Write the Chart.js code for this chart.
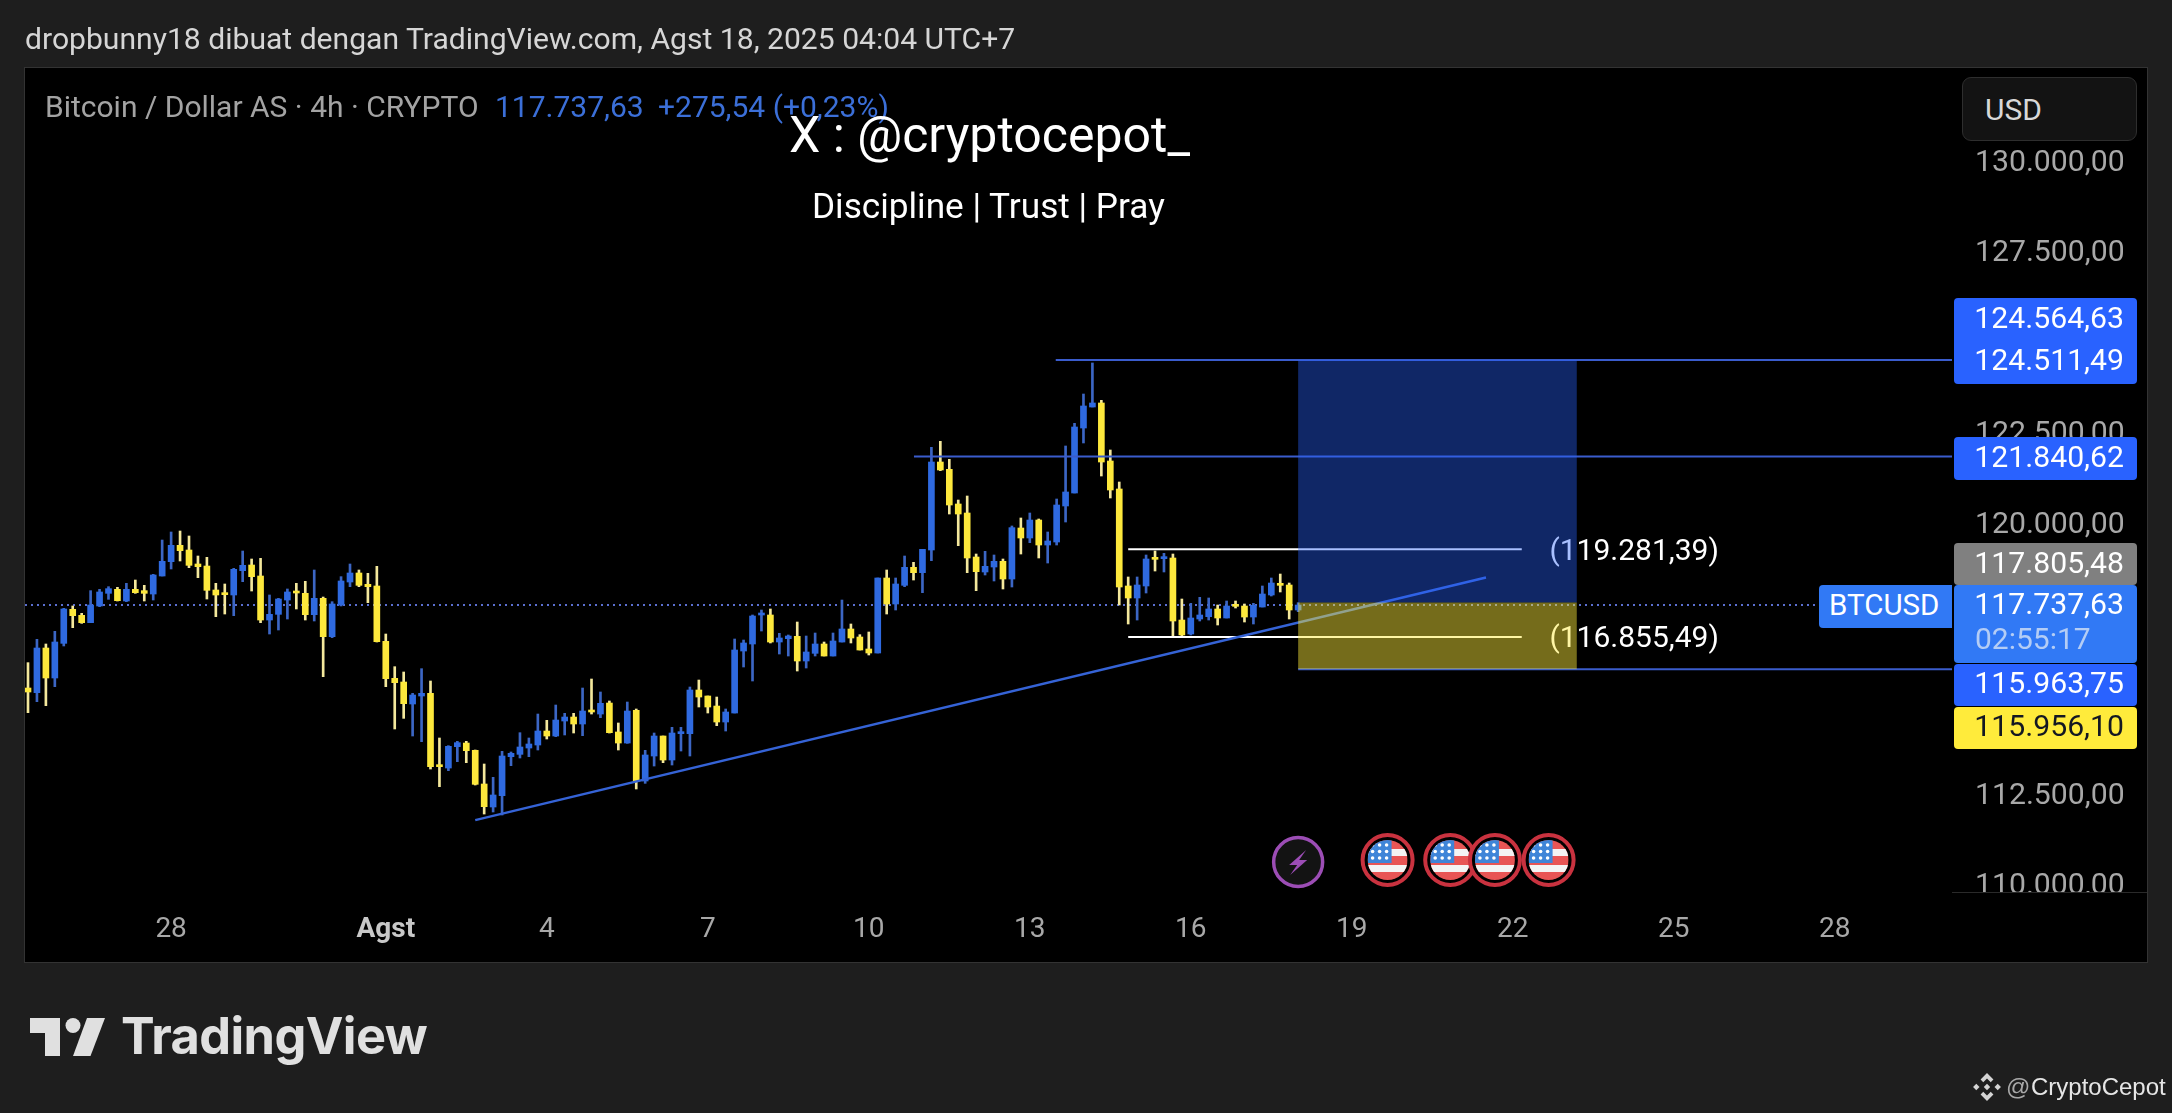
<!DOCTYPE html>
<html>
<head>
<meta charset="utf-8">
<title>BTCUSD 4h</title>
<script src="https://cdn.jsdelivr.net/npm/chart.js@4"></script>
<style>
  html, body { margin: 0; padding: 0; width: 2172px; height: 1113px; overflow: hidden; background: #1e1e1e; }
  body { position: relative; font-family: Roboto, sans-serif; }
  #pane { position: absolute; left: 24px; top: 67px; width: 2122px; height: 894px; background: #000; border: 1px solid #333; }
  canvas { position: absolute; left: 0; top: 0; }
  .t { position: absolute; white-space: nowrap; transform: translateY(-50%); line-height: 1; }
  .tag { position: absolute; left: 1954px; width: 183px; border-radius: 4px; }
  .price { right: 48px; font-size: 30.200px; color: #fff; }
  #usd { position: absolute; left: 1962px; top: 77px; width: 175px; height: 64px; box-sizing: border-box; background: #131313; border: 1px solid #2e2e2e; border-radius: 9px; }
</style>
</head>
<body>
<div id="pane"></div>
<canvas id="chart" width="2172" height="1113"></canvas>

<div class="t" style="left:25px;top:39px;font-size:30.100px;color:#d6d6d6">dropbunny18 dibuat dengan TradingView.com, Agst 18, 2025 04:04 UTC+7</div>
<div class="t" style="left:45px;top:107px;font-size:30px;color:#a3a3a3">Bitcoin / Dollar AS · 4h · CRYPTO</div>
<div class="t" style="left:495px;top:107px;font-size:30px;color:#3b6fd8">117.737,63</div>
<div class="t" style="left:658px;top:107px;font-size:30px;color:#3b6fd8">+275,54 (+0,23%)</div>
<div class="t" style="left:789px;top:135px;font-size:50px;color:#fff">X : @cryptocepot_</div>
<div class="t" style="left:812px;top:207px;font-size:35.200px;color:#fff">Discipline | Trust | Pray</div>

<div id="usd"></div>
<div class="t" style="left:1985px;top:110px;font-size:30px;color:#d8d8d8">USD</div>

<div class="tag" style="top:298px;height:86px;background:#2962ff"></div>
<div class="t price" style="top:318px">124.564,63</div>
<div class="t price" style="top:360px">124.511,49</div>
<div class="tag" style="top:437px;height:43px;background:#2962ff"></div>
<div class="t price" style="top:457px">121.840,62</div>
<div class="tag" style="top:543px;height:42px;background:#808080"></div>
<div class="t price" style="top:563px">117.805,48</div>
<div class="tag" style="top:585px;left:1819px;width:133px;height:43px;background:#3179f5;border-radius:4px 0 0 4px"></div>
<div class="t" style="left:1829px;top:606px;font-size:29.500px;color:#fff">BTCUSD</div>
<div class="tag" style="top:585px;height:78px;background:#3179f5"></div>
<div class="t price" style="top:604px">117.737,63</div>
<div class="t" style="left:1975px;top:639px;font-size:30px;color:#b4cdf5">02:55:17</div>
<div class="tag" style="top:664px;height:42px;background:#2962ff"></div>
<div class="t price" style="top:683px">115.963,75</div>
<div class="tag" style="top:707px;height:42px;background:#ffeb3b"></div>
<div class="t price" style="top:726px;color:#131722">115.956,10</div>

<svg style="position:absolute;left:30px;top:1017px" width="80" height="42" viewBox="0 0 80 42" fill="#e0e0e0">
  <polygon points="0,1 30,1 30,39 15,39 15,16 0,16"></polygon>
  <circle cx="43" cy="8.5" r="7.5"></circle>
  <polygon points="57,1 75,1 60.500,39 43,39"></polygon>
</svg>
<div class="t" style="left:121px;top:1036px;font-family:Inter,sans-serif;font-weight:700;font-size:50.500px;color:#e0e0e0;letter-spacing:-0.6px">TradingView</div>

<svg style="position:absolute;left:1972px;top:1072px" width="30" height="30" viewBox="-14 -14 28 28" fill="#d4d4d4">
  <polygon points="0,-13 6,-7 3.500,-4.500 0,-8 -3.500,-4.500 -6,-7"></polygon>
  <polygon points="0,13 6,7 3.500,4.500 0,8 -3.500,4.500 -6,7"></polygon>
  <polygon points="0,-3 3,0 0,3 -3,0"></polygon>
  <polygon points="-10,-3 -7,0 -10,3 -13,0"></polygon>
  <polygon points="10,-3 13,0 10,3 7,0"></polygon>
</svg>
<div class="t" style="left:2006px;top:1087px;font-family:'Liberation Sans',sans-serif;font-size:24px;color:#a8a8a8">@</div>
<div class="t" style="left:2031px;top:1087px;font-family:'Liberation Sans',sans-serif;font-size:24px;color:#e6e6e6">CryptoCepot</div>

<script>
// candles (4h, one entry per bar)
const opens = [
  115442,115313,116548,115719,116677,117618,117452,117249,117710,118060,
  118170,117848,118170,118134,118041,118539,118935,119387,119258,118871,
  118815,118152,118060,118014,118687,118843,118539,117322,117479,117875,
  118124,118060,117470,117922,116862,117737,118373,118622,118309,118263,
  116733,115710,115608,115000,115221,115295,113313,113230,113820,113921,
  113719,112788,112152,112465,113544,113608,113783,113866,114253,114115,
  114530,114640,114447,114825,114723,115027,114226,113921,114825,112871,
  113562,114115,113451,114180,114180,115387,115221,114944,114502,114751,
  116465,116659,117461,117461,116714,116806,116871,116189,116401,116659,
  116327,116714,117074,116852,116521,116410,118484,117765,118281,118779,
  118631,119258,121691,121488,120530,120281,119064,118650,118788,118945,
  118456,119866,119590,120087,119396,119479,120475,120834,122631,123212,
  123323,121719,120945,118263,117931,118263,119046,119018,119037,117322,
  116935,117350,117415,117627,117378,117746,117709,117405,117682,118014,
  118336,118290,117599
];
const highs = [
  116143,116788,116659,117009,117645,117710,117507,118134,118170,118244,
  118226,118336,118428,118281,118585,119534,119756,119783,119645,119092,
  119055,118336,118318,118751,119230,119009,119027,118014,117922,118180,
  118336,118392,118705,117958,117829,118521,118871,118705,118613,118806,
  116935,116032,115885,115295,115977,115636,114060,113848,113968,113968,
  113728,113341,112972,113691,113673,114207,114060,114723,114548,114972,
  114742,114742,115442,115691,115332,115083,114475,115055,114862,113719,
  114198,114115,114355,114355,115470,115663,115221,115193,114862,116797,
  116769,117461,117599,117627,116954,116908,117267,116880,116963,116714,
  116963,117875,117212,116917,116991,118484,118705,118484,119092,118917,
  119276,122097,122263,121765,120640,120751,119147,119221,119120,119009,
  119922,120143,120281,120115,119756,120668,122134,122760,123571,124429,
  123396,122023,121138,118512,118512,119120,119230,119166,119147,117903,
  117783,117949,117931,117737,117848,117848,117765,117783,118263,118484,
  118594,118345,117802
];
const lows = [
  114760,115064,114954,115479,116604,117111,117230,117249,117691,117894,
  117848,117829,118060,117848,117875,118539,118733,118954,118770,118493,
  117903,117415,117488,117442,118382,118124,117249,116935,117046,117350,
  117627,117322,117295,115756,116834,117710,118244,118244,117802,116714,
  115479,114309,114603,114115,113958,113202,112714,113156,113405,113378,
  112760,111958,112014,111931,113295,113507,113544,113728,114032,114097,
  114143,114198,114124,114723,114622,114198,113728,113912,112650,112806,
  113285,113378,113313,113700,113562,114917,114751,114401,114253,114751,
  116023,115636,117018,116687,116382,116327,115912,115995,116327,116327,
  116327,116714,116687,116493,116355,116410,117488,117599,118244,118428,
  118078,118963,121452,120253,119378,118631,118134,118567,118401,118180,
  118235,119147,119461,119037,118898,119396,120032,120834,122217,123212,
  121304,120696,117737,117212,117322,118069,118677,118650,116880,116852,
  116908,117295,117322,117184,117378,117654,117267,117212,117682,117986,
  118097,117350,117553
];
const closes = [
  115332,116548,115719,116714,117627,117442,117249,117737,118097,118189,
  117857,118170,118078,118060,118567,118945,119387,119240,118834,118797,
  118143,118014,118023,118723,118834,118521,117322,117479,117903,118097,
  118069,117470,117922,116862,117765,118401,118622,118281,118244,116723,
  115700,115590,115009,115249,115295,113267,113267,113829,113931,113709,
  112779,112161,112484,113562,113636,113811,113894,114253,114115,114557,
  114640,114447,114806,114779,115018,114207,113921,114806,112871,113590,
  114115,113451,114198,114226,115387,115193,114917,114502,114779,116493,
  116687,117433,117516,116714,116825,116880,116189,116438,116659,116327,
  116742,117074,116825,116493,116410,118484,117765,118318,118779,118631,
  119276,121691,121470,120502,120253,119037,118659,118806,118945,118456,
  119876,119590,120087,119396,119507,120502,120862,122659,123240,123323,
  121691,120917,118235,117931,118290,119009,119000,119074,117295,116908,
  117378,117461,117627,117378,117709,117700,117405,117728,118041,118345,
  118281,117599,117737
];

// axes
const yTicks = [130000, 127500, 122500, 120000, 112500, 110000];
const xTickBars = [16, 40, 58, 76, 94, 112, 130, 148, 166, 184, 202];
const xTickLabels = ['28', 'Agst', '4', '7', '10', '13', '16', '19', '22', '25', '28'];

// drawn levels, in price and bar number
const lastPrice = 117737.63;
const highLevel = 124511.49;
const midLevel = 121840.62;
const zoneTop = 117805.48;
const zoneBottom = 115963.75;
const upperWhite = 119281.39;
const lowerWhite = 116855.49;
const upperWhiteText = '(119.281,39)';
const lowerWhiteText = '(116.855,49)';
const trendBars = [50, 163];
const trendPrices = [111790, 118500];
const boxBars = [142, 173.15];
const whiteBars = [123, 167];
const lightningBar = [142];
const flagBars = [152, 159, 164, 170];

const BLUE = '#2f6ae0', BLUE_WICK = '#3c66c4';
const YELLOW = '#fde83c', YELLOW_WICK = '#f4e89c';
const LINE_BLUE = '#3a5ccc';
const X_MIN = -0.335, X_MAX = 215.1;

const isUp = opens.map((o, i) => closes[i] >= o);

function levelLine(label, bars, prices, color, extra) {
  return Object.assign({
    type: 'line', label,
    data: bars.map((b, i) => ({ x: b, y: prices[i] })),
    borderColor: color, borderWidth: 2, pointRadius: 0, order: 0
  }, extra || {});
}

function drawFlag(ctx, x, y) {
  ctx.beginPath(); ctx.arc(x, y, 25, 0, Math.PI * 2);
  ctx.fillStyle = '#000'; ctx.fill();
  ctx.lineWidth = 4; ctx.strokeStyle = '#c9323f'; ctx.stroke();
  ctx.save();
  ctx.beginPath(); ctx.arc(x, y, 20, 0, Math.PI * 2); ctx.clip();
  ctx.fillStyle = '#e85555'; ctx.fillRect(x - 20, y - 20, 40, 40);
  ctx.fillStyle = '#f4f4f4';
  ctx.fillRect(x - 20, y - 11, 40, 7);
  ctx.fillRect(x - 20, y + 5, 40, 7);
  ctx.fillStyle = '#3f85d8'; ctx.fillRect(x - 20, y - 20, 24, 23);
  ctx.fillStyle = '#fff';
  for (let r = 0; r < 3; r++) {
    for (let c = 0; c < 3; c++) {
      ctx.beginPath(); ctx.arc(x - 15 + c * 7, y - 15 + r * 6.5, 1.8, 0, Math.PI * 2); ctx.fill();
    }
  }
  ctx.restore();
}

function drawLightning(ctx, x, y) {
  ctx.beginPath(); ctx.arc(x, y, 24.5, 0, Math.PI * 2);
  ctx.fillStyle = '#131313'; ctx.fill();
  ctx.lineWidth = 3.5; ctx.strokeStyle = '#9c4db5'; ctx.stroke();
  const pts = [[8, -12], [-9, 3], [-1, 3], [-8, 13], [9, -2], [1, -2]];
  ctx.beginPath();
  pts.forEach((p, i) => { if (i) ctx.lineTo(x + p[0], y + p[1]); else ctx.moveTo(x + p[0], y + p[1]); });
  ctx.closePath();
  ctx.fillStyle = '#9c4db5'; ctx.fill();
}

// position tool, the two white level captions and the event badges
const overlayPlugin = {
  id: 'overlay',
  afterDatasetsDraw(chart) {
    const { ctx, scales: { x, y } } = chart;
    ctx.save();
    ctx.font = '30px Roboto';
    ctx.fillStyle = '#ffffff';
    ctx.textAlign = 'left';
    ctx.textBaseline = 'middle';
    ctx.fillText(upperWhiteText, x.getPixelForValue(170.1), y.getPixelForValue(upperWhite) + 3);
    ctx.fillText(lowerWhiteText, x.getPixelForValue(170.1), y.getPixelForValue(lowerWhite) + 3);

    const left = x.getPixelForValue(boxBars[0]);
    const width = x.getPixelForValue(boxBars[1]) - left;
    const top = y.getPixelForValue(highLevel);
    const mid = y.getPixelForValue(zoneTop);
    const bottom = y.getPixelForValue(zoneBottom);
    ctx.fillStyle = 'rgba(41,98,255,0.40)';
    ctx.fillRect(left, top, width, mid - top);
    ctx.fillStyle = 'rgba(255,235,59,0.46)';
    ctx.fillRect(left, mid, width, bottom - mid);

    lightningBar.forEach(b => drawLightning(ctx, x.getPixelForValue(b), 862));
    flagBars.forEach(b => drawFlag(ctx, x.getPixelForValue(b), 860));
    ctx.restore();
  },
  afterDraw(chart) {
    const { ctx, chartArea } = chart;
    ctx.save();
    ctx.fillStyle = '#000';
    ctx.fillRect(chartArea.right, chartArea.bottom, 195, 12);
    ctx.fillStyle = '#2a2a2a';
    ctx.fillRect(chartArea.right, chartArea.bottom, 195, 1);
    ctx.restore();
  }
};

new Chart(document.getElementById('chart'), {
  data: {
    datasets: [
      levelLine('high level', [114.9, X_MAX], [highLevel, highLevel], LINE_BLUE),
      levelLine('mid level', [99.05, X_MAX], [midLevel, midLevel], LINE_BLUE),
      levelLine('zone bottom', [boxBars[0], X_MAX], [zoneBottom, zoneBottom], LINE_BLUE),
      levelLine('trend', trendBars, trendPrices, '#3563d6', { borderWidth: 2.5 }),
      levelLine('upper white', whiteBars, [upperWhite, upperWhite], '#ffffff'),
      levelLine('lower white', whiteBars, [lowerWhite, lowerWhite], '#ffffff'),
      levelLine('last price', [X_MIN, 199.8], [lastPrice, lastPrice], '#5a6fd0', { borderDash: [2, 4], order: 3 }),
      {
        type: 'bar', label: 'bodies', order: 1,
        data: opens.map((o, i) => ({ x: i, y: [Math.min(o, closes[i]), Math.max(o, closes[i])] })),
        backgroundColor: isUp.map(up => up ? BLUE : YELLOW),
        barThickness: 6, minBarLength: 2, grouped: false, borderWidth: 0
      },
      {
        type: 'bar', label: 'wicks', order: 2,
        data: highs.map((h, i) => ({ x: i, y: [lows[i], h] })),
        backgroundColor: isUp.map(up => up ? BLUE_WICK : YELLOW_WICK),
        barThickness: 2, grouped: false, borderWidth: 0
      }
    ]
  },
  options: {
    responsive: false,
    devicePixelRatio: 1,
    animation: false,
    layout: { padding: { left: 25, top: 68, right: 24, bottom: 151 } },
    plugins: { legend: { display: false }, tooltip: { enabled: false } },
    scales: {
      x: {
        type: 'linear', min: X_MIN, max: X_MAX, offset: false,
        grid: { display: false, drawTicks: false, offset: false },
        border: { display: false },
        afterBuildTicks: s => { s.ticks = xTickBars.map(v => ({ value: v })); },
        afterFit: s => { s.height = 70; },
        ticks: {
          autoSkip: false, maxRotation: 0, minRotation: 0, padding: 21,
          callback: v => xTickLabels[xTickBars.indexOf(v)],
          color: ctx => ctx.tick && ctx.tick.label === 'Agst' ? '#c8c8c8' : '#a8a8a8',
          font: ctx => ({ family: 'Roboto', size: 28, weight: ctx.tick && ctx.tick.label === 'Agst' ? 'bold' : 'normal' })
        }
      },
      y: {
        type: 'linear', position: 'right', min: 109802, max: 132585,
        grid: { display: false, drawTicks: false },
        border: { display: false },
        afterBuildTicks: s => { s.ticks = yTicks.map(v => ({ value: v })); },
        afterFit: s => { s.width = 196; },
        ticks: {
          autoSkip: false, padding: 23, labelOffset: 2,
          callback: v => v.toLocaleString('de-DE', { minimumFractionDigits: 2 }),
          color: '#a8a8a8',
          font: { family: 'Roboto', size: 30.2 }
        }
      }
    }
  },
  plugins: [overlayPlugin]
});
</script>
</body>
</html>
